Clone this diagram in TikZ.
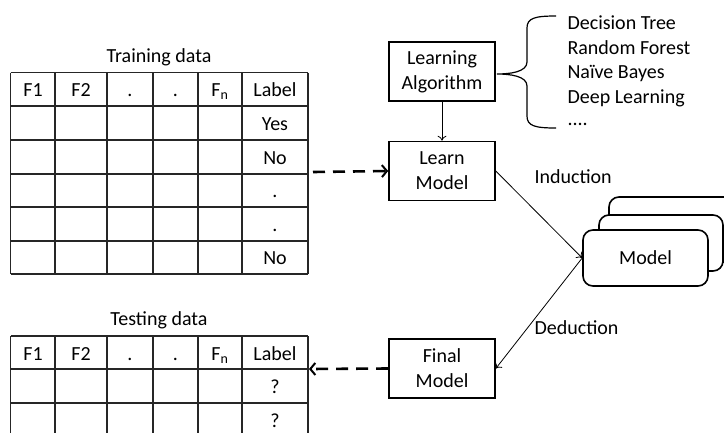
\documentclass[tikz,border=0pt]{standalone}
\usepackage{fontspec}
\setmainfont{Carlito}
\usetikzlibrary{arrows.meta}

\tikzset{
  box/.style={draw, line width=1.6pt, minimum width=106pt, minimum height=59pt, align=center, inner sep=0pt},
  stack/.style={draw, line width=1.6pt, rounded corners=10pt, fill=white},
  grid line/.style={line width=1.2pt, draw=black!85},
  cell/.style={anchor=base},
  thin arrow/.style={-{To[length=5pt,width=9pt]}, line width=0.8pt},
  data arrow/.style={-{Straight Barb[length=5pt,width=12pt,line width=2pt]}, line width=2.6pt, dash pattern=on 12pt off 8pt},
}

\begin{document}
\begin{tikzpicture}[x=1pt,y=-1pt,font=\fontsize{20}{25}\selectfont]
                \useasboundingbox (0,0) rectangle (724,432) ;
                % training table
                \node (trtitle) at (159,57) {Training data} ;
                \foreach \y in {72.7,106,140,174,207,241,274}
                  \draw [grid line] (10.7,\y) -- (308,\y) ;
                \foreach \x in {10.7,55,107,153,198,242,308}
                  \draw [grid line] (\x,72.7) -- (\x,274) ;
                \foreach \x/\t [count=\i] in {33/F1,81/F2,130/.,175.5/.,220/{F\textsubscript{n}},275/Label}
                  \node [cell] (trh\i) at (\x,96.5) {\t} ;
                \foreach \y/\t [count=\i] in {130/Yes,164/No,197.5/.,231/.,264.5/No}
                  \node [cell] (trl\i) at (275,\y) {\t} ;
                % testing table
                \node (tetitle) at (159,320) {Testing data} ;
                \foreach \y in {336,369,403,437}
                  \draw [grid line] (10.7,\y) -- (308,\y) ;
                \foreach \x in {10.7,55,107,153,198,242,308}
                  \draw [grid line] (\x,336) -- (\x,440) ;
                \foreach \x/\t [count=\i] in {33/F1,81/F2,130/.,175.5/.,220/{F\textsubscript{n}},275/Label}
                  \node [cell] (teh\i) at (\x,360) {\t} ;
                \node [cell] (tel1) at (275,393) {?} ;
                \node [cell] (tel2) at (275,427) {?} ;
                % boxes
                \node [box] (algo) at (442,71.5) {Learning\\Algorithm} ;
                \node [box] (learn) at (442,171) {Learn\\Model} ;
                \node [box] (final) at (442,368.5) {Final\\Model} ;
                % list of algorithms
                \draw [line width=1.2pt] (556,16) .. controls (535,16) and (527,18) .. (527,28) -- (527,62)
                      .. controls (527,72) and (510,74) .. (497,74)
                      .. controls (510,74) and (527,76) .. (527,86) -- (527,116)
                      .. controls (527,126) and (535,128) .. (556,128) ;
                \node [anchor=west] (a1) at (564,23) {Decision Tree} ;
                \node [anchor=west] (a2) at (564,48) {Random Forest} ;
                \node [anchor=west] (a3) at (564,73) {Na\"{\i}ve Bayes} ;
                \node [anchor=west] (a4) at (564,98) {Deep Learning} ;
                \node [anchor=west] (a5) at (564,124) {....} ;
                % model stack
                \draw [stack] (609,197) rectangle (745,262) ;
                \draw [stack] (599,215) rectangle (723,271) ;
                \node [stack, minimum width=125pt, minimum height=56pt] (model) at (645.5,258) {Model} ;
                % connectors
                \draw [thin arrow] (algo) -- (learn) ;
                \draw [thin arrow] (learn.east) -- (model.west) ;
                \draw [thin arrow] (model.west) -- (final.east) ;
                \node [anchor=west] (ind) at (531,177) {Induction} ;
                \node [anchor=west] (ded) at (531,328) {Deduction} ;
                \coordinate (train-e) at (313,172) ;
                \coordinate (test-e) at (309,369) ;
                \draw [data arrow] (train-e) -- (learn.west) ;
                \draw [data arrow] (final.west) -- (test-e) ;
            \end{tikzpicture}
\end{document}
